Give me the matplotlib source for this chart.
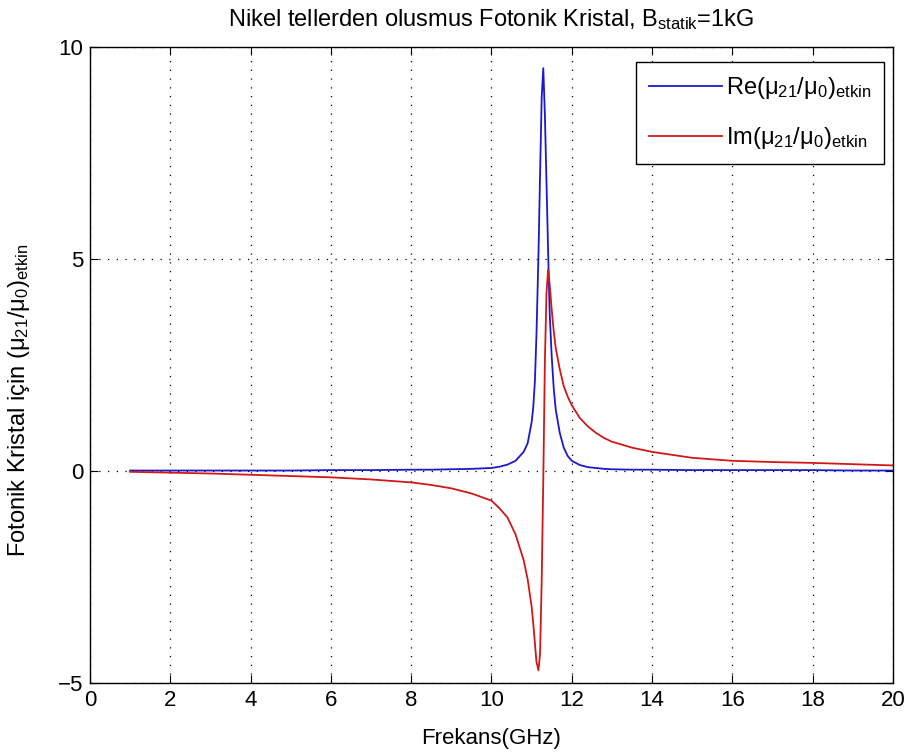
import numpy as np
import matplotlib
matplotlib.use("Agg")
import matplotlib.pyplot as plt

# Values
frekans = [1, 2, 3, 4, 5, 6, 7, 8, 8.5, 9, 9.5, 10, 10.2, 10.4, 10.6, 10.8, 10.9,
           11.0, 11.04, 11.08, 11.12, 11.17, 11.21, 11.25, 11.29, 11.33, 11.37,
           11.41, 11.45, 11.5, 11.55, 11.6, 11.7, 11.8, 11.9, 12.0, 12.2, 12.4,
           12.6, 12.8, 13, 13.5, 14, 15, 16, 17, 18, 19, 20]

re_mu = [0.01, 0.01, 0.01, 0.01, 0.01, 0.02, 0.02, 0.03, 0.03, 0.04, 0.05, 0.07,
         0.1, 0.15, 0.24, 0.45, 0.65, 1.15, 1.5, 2.1, 3.2, 5.1, 7.0, 8.8, 9.5,
         8.4, 6.8, 5.2, 3.7, 2.7, 1.95, 1.45, 0.9, 0.55, 0.35, 0.24, 0.14, 0.09,
         0.07, 0.05, 0.04, 0.03, 0.03, 0.02, 0.02, 0.02, 0.02, 0.01, 0.01]

im_mu = [-0.02, -0.04, -0.06, -0.09, -0.12, -0.15, -0.2, -0.27, -0.33, -0.41,
         -0.53, -0.7, -0.88, -1.1, -1.5, -2.1, -2.55, -3.2, -3.6, -4.05, -4.5,
         -4.7, -4.3, -2.6, -0.2, 2.6, 4.2, 4.75, 4.4, 3.8, 3.3, 2.9, 2.4, 2.0,
         1.75, 1.55, 1.25, 1.05, 0.9, 0.78, 0.69, 0.55, 0.45, 0.31, 0.24, 0.21,
         0.19, 0.16, 0.13]

x_ticks = [0, 2, 4, 6, 8, 10, 12, 14, 16, 18, 20]
y_ticks = [-5, 0, 5, 10]

plt.rcParams["font.family"] = ["Liberation Sans", "DejaVu Sans"]
plt.rcParams["mathtext.default"] = "regular"
fs = 16

fig = plt.figure(figsize=(9.1, 7.56), dpi=100)
ax = fig.add_axes([0.0989, 0.0966, 0.8824, 0.8413])

ax.plot(frekans, re_mu, color="#1a1acc", lw=1.3, label="Re(μ$_{21}$/μ$_{0}$)$_{etkin}$")
ax.plot(frekans, im_mu, color="#d01818", lw=1.3, label="Im(μ$_{21}$/μ$_{0}$)$_{etkin}$")

ax.set_xlim(0, 20)
ax.set_ylim(-5, 10)
ax.set_xticks(x_ticks)
ax.set_yticks(y_ticks)
ax.tick_params(direction="in", top=True, right=True, length=6, labelsize=fs, pad=5)
ax.grid(True, color="black", linestyle=(0, (1, 6)), linewidth=0.9)
for s in ax.spines.values():
    s.set_linewidth(1.0)

ax.set_xlabel("Frekans(GHz)", fontsize=fs, labelpad=12)
ax.set_ylabel("Fotonik Kristal için (μ$_{21}$/μ$_{0}$)$_{etkin}$", fontsize=17)
ax.yaxis.set_label_coords(-0.072, 0.445)
ax.set_title("Nikel tellerden olusmus Fotonik Kristal, B$_{statik}$=1kG", fontsize=17, pad=15)

leg = ax.legend(loc="upper right", bbox_to_anchor=(0.989, 0.976), borderaxespad=0,
                fancybox=False, framealpha=1, edgecolor="black", fontsize=17,
                handlelength=3.1, handletextpad=0.15, borderpad=0.55, labelspacing=1.0)
leg.get_frame().set_linewidth(1.0)

fig.savefig("out.png", dpi=100)
